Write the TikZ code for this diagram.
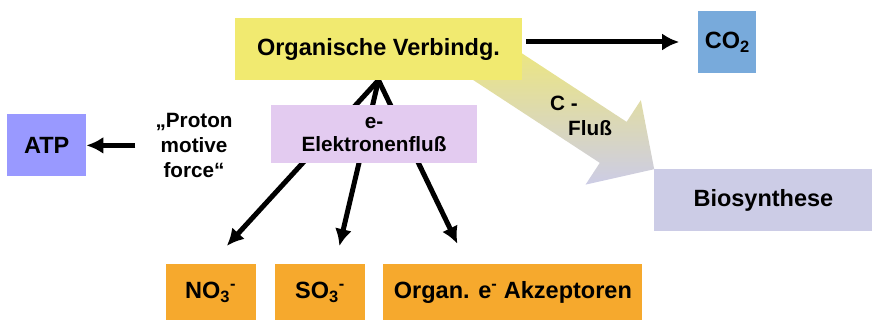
\documentclass[tikz,border=0pt]{standalone}
\usepackage{fontspec}
\setmainfont{Liberation Sans}
\usepackage{tikz}
\usetikzlibrary{arrows.meta, positioning, calc}

\pgfdeclarelayer{back}
\pgfsetlayers{back,main}

\definecolor{verbyellow}{HTML}{F1EA70}
\definecolor{coblue}{HTML}{78AADB}
\definecolor{atpblue}{HTML}{9999FF}
\definecolor{elekpink}{HTML}{E3CBF0}
\definecolor{biolav}{HTML}{CCCCE6}
\definecolor{accorange}{HTML}{F6A92D}

\begin{document}
\begin{tikzpicture}
  [> = {Latex[length=17pt, width=17pt]},
    box/.style ={
        rectangle,
        inner sep=0pt,
        minimum height=62pt,
        font=\fontsize{23.5}{28}\selectfont\bfseries,
      },
    accbox/.style ={
        box,
        fill=accorange,
        minimum height=57pt,
      },
    lbl/.style ={
        inner sep=0pt,
        font=\fontsize{20.7}{25}\selectfont\bfseries,
      },
    flow/.style ={->, line width=5pt},
  ]
  \useasboundingbox (0pt,0pt) rectangle (872pt,-320pt);

  \node[box, fill=verbyellow, minimum width=287pt] (verb) at (378.5pt,-49pt) {Organische Verbindg.};
  \node[box, fill=coblue, minimum width=58pt, right=176pt of verb, yshift=7pt] (co2) {CO\textsubscript{2}};

  \node[box, fill=elekpink, minimum width=206pt, minimum height=58pt, align=center,
        font=\fontsize{20.7}{23}\selectfont\bfseries, below=25pt of verb, xshift=-4.5pt] (elek) {e-\\Elektronenfluß};
  \node[lbl, align=center, left=38pt of elek, yshift=-11pt] (proton) {„Proton\\motive\\force“};
  \node[box, fill=atpblue, minimum width=79pt, left=69pt of proton] (atp) {ATP};

  \node[box, fill=biolav, minimum width=218pt, below right=89pt and 132pt of verb.south east] (bio) {Biosynthese};

  \node[accbox, minimum width=90pt, below=100pt of elek, xshift=-54pt] (so3) {SO\textsubscript{3}\textsuperscript{-}};
  \node[accbox, minimum width=90pt, left=19pt of so3] (no3) {NO\textsubscript{3}\textsuperscript{-}};
  \node[accbox, minimum width=259pt, right=18pt of so3] (organ) {Organ. e\textsuperscript{-} Akzeptoren};

  \node[lbl, align=left, anchor=north west] (cflux) at (550pt,-96pt) {C -\\\hspace*{18pt}Fluß};

  \begin{pgfonlayer}{back}
    % C-Fluss block arrow
    \begin{scope}[shift={(bio.north west)}, rotate=-33.2]
      \shade[top color=verbyellow, bottom color=biolav]
        (-219pt,24.5pt) -- (-49pt,24.5pt) -- (-49pt,50.5pt) -- (0pt,0pt)
        -- (-49pt,-50.5pt) -- (-49pt,-24.5pt) -- (-219pt,-24.5pt) -- cycle;
    \end{scope}

    \draw[flow, shorten <=4pt, shorten >=19pt] (verb.east |- co2.west) -- (co2.west);
    \draw[flow] ([xshift=-20pt]proton.west) -- (atp.east);
    \draw[flow, shorten >=24pt] (verb.south) -- (no3.north);
    \draw[flow, shorten >=18pt] (verb.south) -- (so3.62);
    \draw[flow, shorten >=22pt] (verb.south) -- (organ.148);
  \end{pgfonlayer}
\end{tikzpicture}
\end{document}
